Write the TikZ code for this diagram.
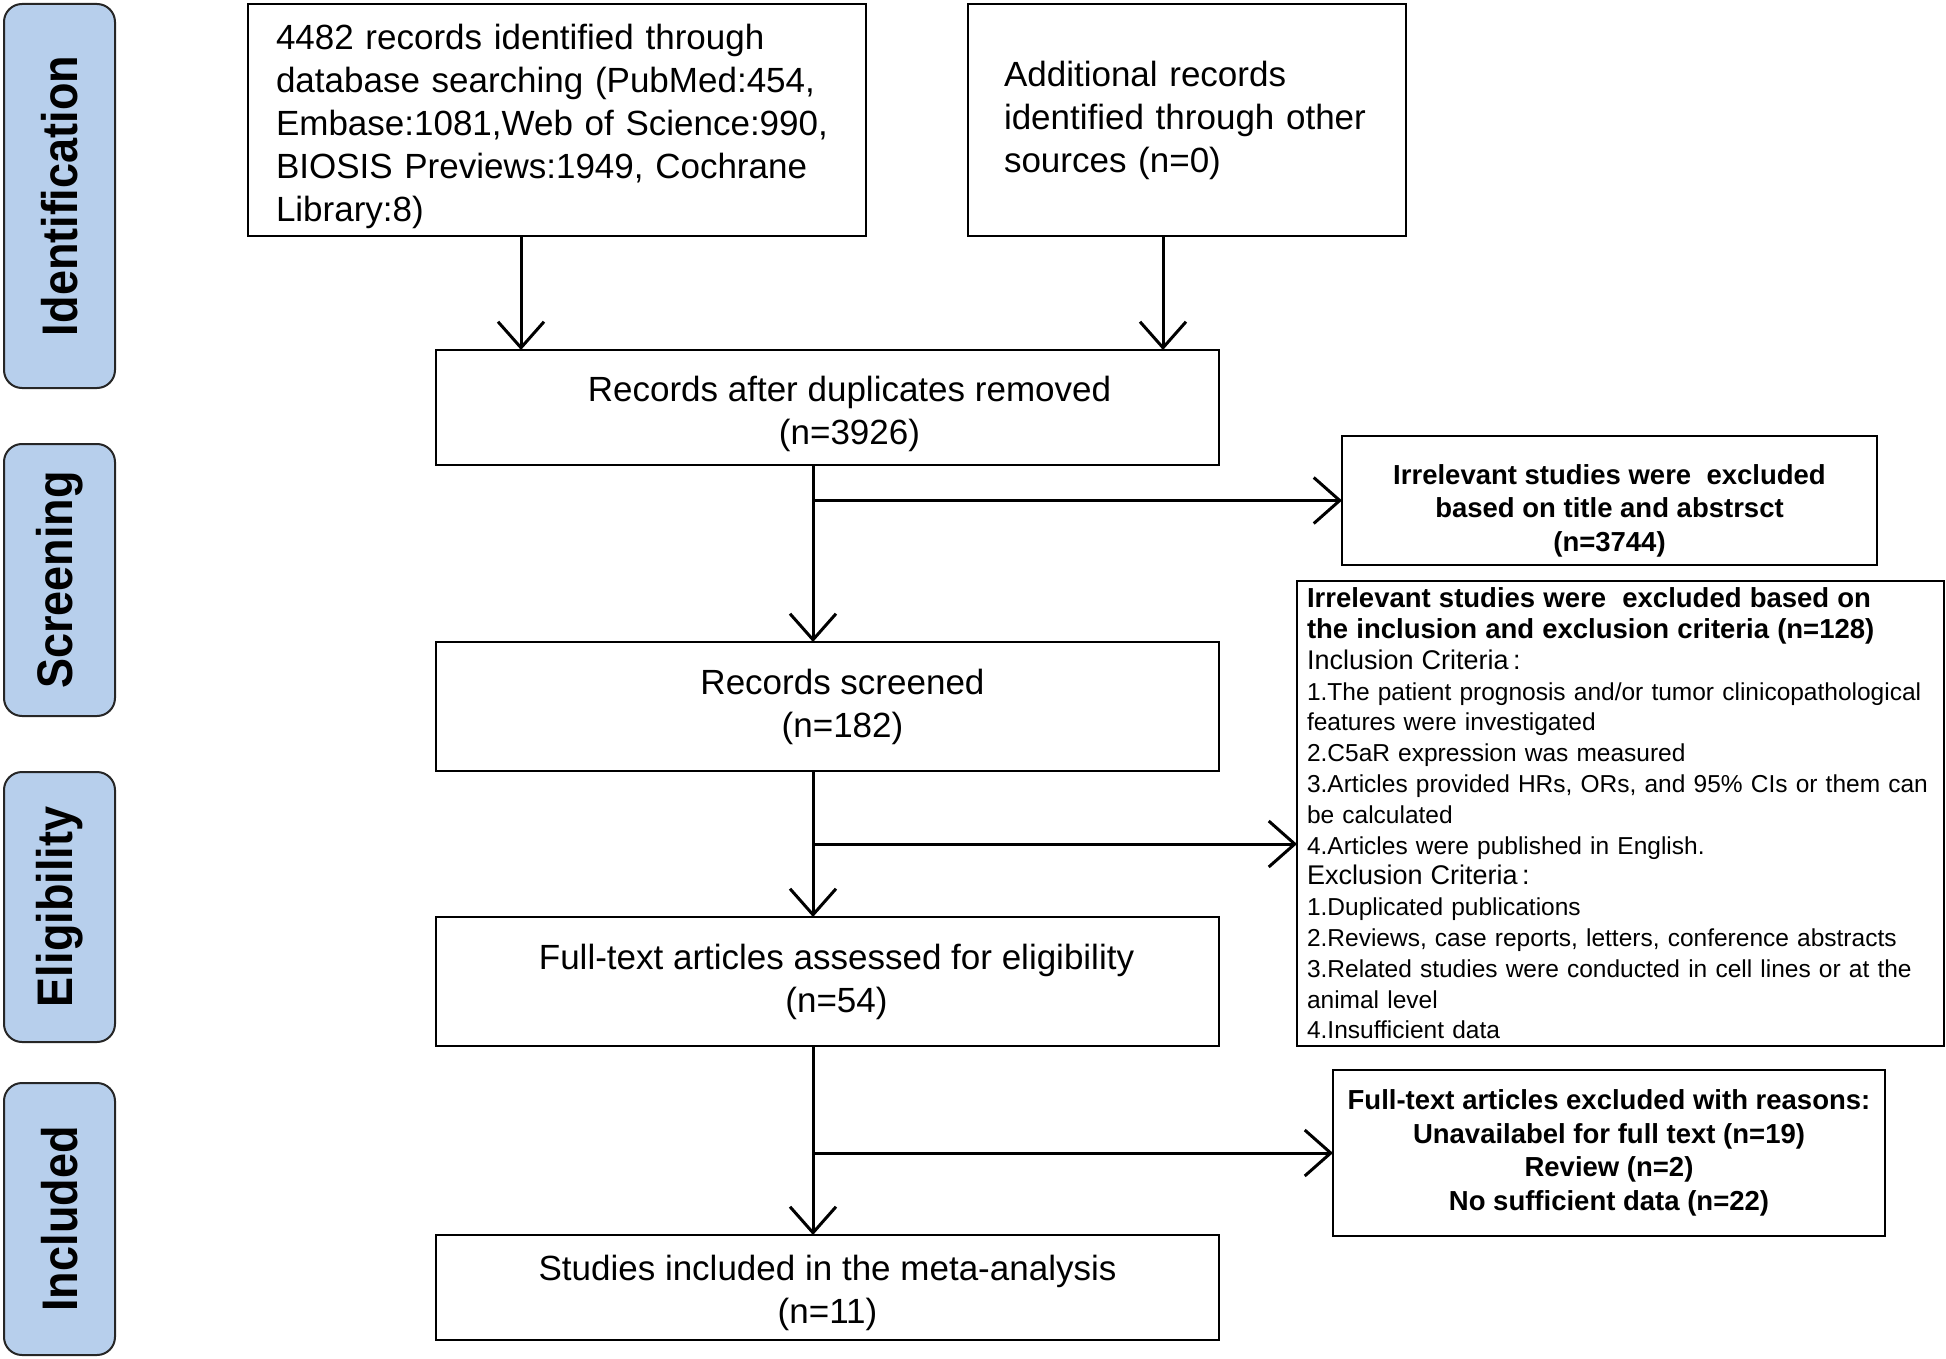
\documentclass[tikz,border=0pt]{standalone}
\usepackage{fontspec}
\setmainfont{Liberation Sans}
\newfontfamily\stagefont{Liberation Sans}[FakeStretch=0.9]
\usepackage{xcolor}
\usepackage{tikz}
\usetikzlibrary{calc,arrows.meta}
\definecolor{stageblue}{RGB}{183,207,236}
\newcommand{\pushin}[1]{\hspace*{#1}}
\newcommand{\lowerby}[1]{\rule{0pt}{#1}}

\begin{document}
\begin{tikzpicture}[x=1pt,y=-1pt]
                \tikzstyle{every node}+=[inner sep=0pt,outer sep=0pt]
                \tikzstyle{stage}=[draw=black!85,line width=2pt,fill=stageblue,rounded corners=18pt,rotate=90,minimum height=111pt,font=\stagefont\bfseries\fontsize{50}{50}\selectfont]
                \tikzstyle{box}=[draw,line width=2pt,anchor=north west,align=center,font=\fontsize{35}{43}\selectfont]
                \tikzstyle{sidebox}=[draw,line width=2.5pt,anchor=north west,align=center,font=\bfseries\fontsize{27.5}{33.5}\selectfont]
                \tikzstyle{link}=[line width=3pt,-{Straight Barb[length=26pt,width=46pt]}]
                \useasboundingbox (0,0) rectangle (1946,1359);
                \node [stage,minimum width=384pt] (ident) at (59.5,196) {Identification};
                \node [stage,minimum width=272pt] (screen) at (59.5,580) {Screening};
                \node [stage,minimum width=270pt] (elig) at (59.5,907) {Eligibility};
                \node [stage,minimum width=272pt] (incl) at (59.5,1219) {Included};
                \node [box,align=left,minimum width=618pt,minimum height=232pt,text width=562pt] (search) at (248,4) {\lowerby{38pt}4482 records identified through\\database searching (PubMed:454,\\Embase:1081,Web of Science:990,\\BIOSIS Previews:1949, Cochrane\\Library:8)};
                \node [box,align=left,minimum width=438pt,minimum height=232pt,text width=366pt] (other) at (968,4) {Additional records\\identified through other\\sources (n=0)\\[50pt]};
                \node [box,minimum width=783pt,minimum height=115pt] (dedup) at (436,350) {\lowerby{38pt}\pushin{44pt}Records after duplicates removed\\\pushin{44pt}(n=3926)};
                \node [box,minimum width=783pt,minimum height=129pt] (screened) at (436,642) {\pushin{30pt}Records screened\\\pushin{30pt}(n=182)};
                \node [box,minimum width=783pt,minimum height=129pt] (fulltext) at (436,917) {\pushin{18pt}Full-text articles assessed for eligibility\\\pushin{18pt}(n=54)};
                \node [box,minimum width=783pt,minimum height=105pt] (included) at (436,1235) {\lowerby{36pt}Studies included in the meta-analysis\\(n=11)};
                \node [sidebox,minimum width=535pt,minimum height=129pt] (titleout) at (1342,436) {\lowerby{40pt}Irrelevant studies were~ excluded\\based on title and abstrsct\\(n=3744)};
                \node [sidebox,minimum width=552pt,minimum height=166pt] (reasons) at (1333,1070) {Full-text articles excluded with reasons:\\Unavailabel for full text (n=19)\\Review (n=2)\\No sufficient data (n=22)};
                \node [draw,line width=2pt,anchor=north west,align=left,minimum width=647pt,minimum height=465pt,text width=627pt,font=\fontsize{24.5}{30.8}\selectfont] (criteria) at (1297,581) {{\bfseries\fontsize{27.5}{32}\selectfont Irrelevant studies were~ excluded based on\\the inclusion and exclusion criteria (n=128)}\\{\fontsize{27}{30.8}\selectfont Inclusion Criteria\,:}\\1.The patient prognosis and/or tumor clinicopathological\\features were investigated\\2.C5aR expression was measured\\3.Articles provided HRs, ORs, and 95\% CIs or them can\\be calculated\\4.Articles were published in English.\\{\fontsize{27}{30.8}\selectfont Exclusion Criteria\,:}\\1.Duplicated publications\\2.Reviews, case reports, letters, conference abstracts\\3.Related studies were conducted in cell lines or at the\\animal level\\4.Insufficient data};
                \coordinate (leftdrop) at (521,0);
                \coordinate (rightdrop) at (1163,0);
                \coordinate (trunk) at (813,0);
                \coordinate (midFG) at ($(screened.south)!0.5!(fulltext.north)$);
                \draw [link] (search.south -| leftdrop) -- (dedup.north -| leftdrop);
                \draw [link] (other.south -| rightdrop) -- (dedup.north -| rightdrop);
                \draw [link] (dedup.south -| trunk) -- (screened.north -| trunk);
                \draw [link] (trunk |- titleout.west) -- (titleout.west);
                \draw [link] (screened.south -| trunk) -- (fulltext.north -| trunk);
                \draw [link] (midFG -| trunk) -- (midFG -| criteria.west);
                \draw [link] (fulltext.south -| trunk) -- (included.north -| trunk);
                \draw [link] (trunk |- reasons.west) -- (reasons.west);
\end{tikzpicture}
\end{document}
